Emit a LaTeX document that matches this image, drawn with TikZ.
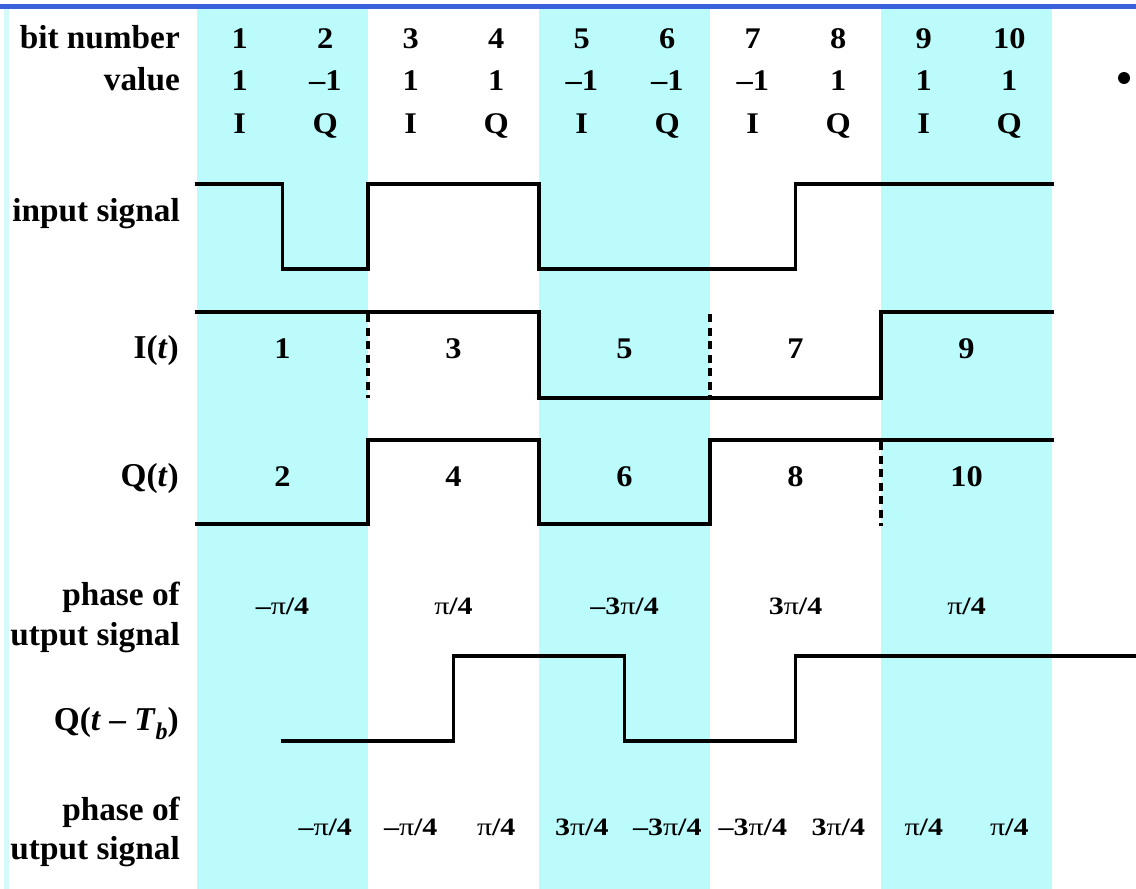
\documentclass[tikz,border=0pt]{standalone}
\usepackage{fontspec}
\setmainfont{Liberation Serif}
\newfontfamily\widenum{Liberation Serif}[FakeStretch=1.08]
\newfontfamily\widerph{Liberation Serif}[FakeStretch=1.2]
\newcommand\mypi{{\mdseries π}}
\definecolor{cy}{RGB}{187,251,251}
\definecolor{topblue}{RGB}{58,96,220}
\definecolor{edgecy}{RGB}{212,250,250}
\tikzset{
  lbl/.style={font=\fontsize{33.3}{36}\selectfont\bfseries, anchor=base east, inner sep=0pt},
  num/.style={font=\widenum\fontsize{30}{32}\selectfont\bfseries, anchor=base, inner sep=0pt},
  ph/.style={font=\widerph\fontsize{25}{28}\selectfont\bfseries, anchor=base, inner sep=0pt},
  wave/.style={line width=3.4pt, line join=miter, line cap=rect},
  dashline/.style={line width=3.6pt, dash pattern=on 8pt off 5.5pt},
  band/.style={fill=cy, draw=none}
}
\begin{document}
\begin{tikzpicture}[x=1pt,y=-1pt]
\useasboundingbox (0,0) rectangle (1136,889);
\fill[white] (0,0) rectangle (1136,889);
% bands
\fill[band] (197,8.5) rectangle (368,889);
\fill[band] (539,8.5) rectangle (710,889);
\fill[band] (881,8.5) rectangle (1052,889);
\fill[edgecy] (4,8.5) rectangle (9,889);
\fill[topblue] (0,4) rectangle (1136,8.5);
% row labels
\node[lbl] (lbitnum) at (180,48) {bit number};
\node[lbl] (lvalue) at (180,90) {value};
\node[lbl] (linput) at (180,221) {input signal};
\node[lbl] (lit) at (179,358) {I(\textit{t})};
\node[lbl] (lqt) at (179,486) {Q(\textit{t})};
\node[lbl] (lph1a) at (180,605) {phase of};
\node[lbl] (lph1b) at (180,645) {utput signal};
\node[lbl] (lqtb) at (179,730) {Q(\textit{t} – \textit{T}\raisebox{-0.28em}{\fontsize{24}{26}\selectfont\textit{b}})};
\node[lbl] (lph2a) at (180,820) {phase of};
\node[lbl] (lph2b) at (180,859) {utput signal};
% top table
\foreach \i/\v/\c [count=\k] in {1/1/I,2/–1/Q,3/1/I,4/1/Q,5/–1/I,6/–1/Q,7/–1/I,8/1/Q,9/1/I,10/1/Q}{
  \pgfmathsetmacro{\xx}{197+85.5*(\k-0.5)}
  \node[num] (bn\k) at (\xx,48) {\i};
  \node[num] (bv\k) at (\xx,90) {\v};
  \node[num] (bc\k) at (\xx,133) {\c};
}
% input signal
\draw[wave] (197,184) -- (282.5,184) -- (282.5,269) -- (368,269) -- (368,184) -- (539,184) -- (539,269) -- (795.5,269) -- (795.5,184) -- (1052,184);
% I(t)
\draw[wave] (197,312) -- (539,312) -- (539,398) -- (881,398) -- (881,312) -- (1052,312);
\draw[dashline] (368,314) -- (368,398);
\draw[dashline] (710,314) -- (710,398);
\foreach \n/\k in {1/1,3/3,5/5,7/7,9/9}{
  \pgfmathsetmacro{\xx}{197+85.5*\k}
  \node[num] (in\n) at (\xx,358) {\n};
}
% Q(t)
\draw[wave] (197,524) -- (368,524) -- (368,440) -- (539,440) -- (539,524) -- (710,524) -- (710,440) -- (1052,440);
\draw[dashline] (881,442) -- (881,526);
\foreach \n/\k in {2/1,4/3,6/5,8/7,10/9}{
  \pgfmathsetmacro{\xx}{197+85.5*\k}
  \node[num] (qn\n) at (\xx,486) {\n};
}
% phase row 1
\foreach \p/\k in {{–\mypi/4}/1,{\mypi/4}/3,{–3\mypi/4}/5,{3\mypi/4}/7,{\mypi/4}/9}{
  \pgfmathsetmacro{\xx}{197+85.5*\k}
  \node[ph] (pa\k) at (\xx,614) {\p};
}
% Q(t-Tb)
\draw[wave] (282.5,741) -- (453.5,741) -- (453.5,656) -- (624.5,656) -- (624.5,741) -- (795.5,741) -- (795.5,656) -- (1136,656);
% phase row 2
\foreach \p/\k in {{–\mypi/4}/2,{–\mypi/4}/3,{\mypi/4}/4,{3\mypi/4}/5,{–3\mypi/4}/6,{–3\mypi/4}/7,{3\mypi/4}/8,{\mypi/4}/9,{\mypi/4}/10}{
  \pgfmathsetmacro{\xx}{197+85.5*(\k-0.5)}
  \node[ph] (pb\k) at (\xx,835) {\p};
}
% bullet
\fill (1124,78) circle (6);
\end{tikzpicture}
\end{document}
